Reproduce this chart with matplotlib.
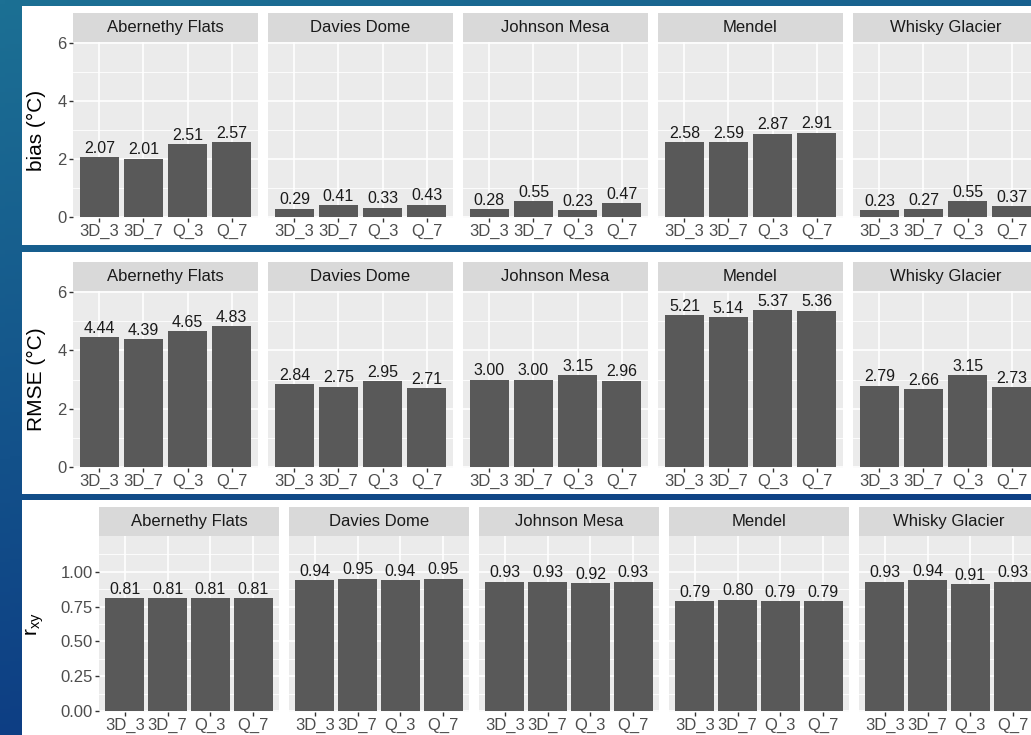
import numpy as np
import matplotlib
matplotlib.use("Agg")
import matplotlib.pyplot as plt
from matplotlib.patches import Rectangle

plt.rcParams['font.family'] = ['Liberation Sans', 'DejaVu Sans']

# data
sites = ["Abernethy Flats", "Davies Dome", "Johnson Mesa", "Mendel", "Whisky Glacier"]
methods = ["3D_3", "3D_7", "Q_3", "Q_7"]

bias = [
    [2.07, 2.01, 2.51, 2.57],
    [0.29, 0.41, 0.33, 0.43],
    [0.28, 0.55, 0.23, 0.47],
    [2.58, 2.59, 2.87, 2.91],
    [0.23, 0.27, 0.55, 0.37],
]
rmse = [
    [4.44, 4.39, 4.65, 4.83],
    [2.84, 2.75, 2.95, 2.71],
    [3.00, 3.00, 3.15, 2.96],
    [5.21, 5.14, 5.37, 5.36],
    [2.79, 2.66, 3.15, 2.73],
]
rxy = [
    [0.81, 0.81, 0.81, 0.81],
    [0.94, 0.95, 0.94, 0.95],
    [0.93, 0.93, 0.92, 0.93],
    [0.79, 0.80, 0.79, 0.79],
    [0.93, 0.94, 0.91, 0.93],
]

W, H = 1031, 735
fig = plt.figure(figsize=(W / 100, H / 100), dpi=100)


def box(x0, y0, x1, y1):
    return [x0 / W, 1 - y1 / H, (x1 - x0) / W, (y1 - y0) / H]


# slide background gradient
bg = fig.add_axes([0, 0, 1, 1])
yy, xx = np.mgrid[0:1:200j, 0:1:200j]
top = np.array([28, 112, 148]) / 255
bot = np.array([10, 50, 128]) / 255
t = np.clip(0.8 * yy + 0.25 * xx, 0, 1)[..., None]
img = top * (1 - t) + bot * t
bg.imshow(img, extent=[0, 1, 0, 1], aspect='auto', origin='upper')
bg.set_xlim(0, 1)
bg.set_ylim(0, 1)
bg.axis('off')

# white panels (x0, y0, x1, y1 in px)
for (x0, y0, x1, y1) in [(22, 6, 1031, 245), (22, 252, 1031, 494), (22, 500, 1031, 735)]:
    bg.add_patch(Rectangle((x0 / W, 1 - y1 / H), (x1 - x0) / W, (y1 - y0) / H,
                           facecolor='white', edgecolor='none'))

rows = [
    dict(data=bias, ylab="bias (°C)", strip=(13, 42), plot=(42, 218), ylim=(-0.03, 6.03),
         major=[0, 2, 4, 6], minor=[1, 3, 5], fmt="{:g}", facets_x=73, fw=185, gap=10, labx=36),
    dict(data=rmse, ylab="RMSE (°C)", strip=(262, 291), plot=(291, 468), ylim=(-0.03, 6.03),
         major=[0, 2, 4, 6], minor=[1, 3, 5], fmt="{:g}", facets_x=73, fw=185, gap=10, labx=36),
    dict(data=rxy, ylab=r"$\mathregular{r_{xy}}$", strip=(507, 536), plot=(536, 712), ylim=(-0.007, 1.257),
         major=[0, 0.25, 0.5, 0.75, 1.0], minor=[0.125, 0.375, 0.625, 0.875, 1.125], fmt="{:.2f}",
         facets_x=99, fw=180, gap=10, labx=35),
]

for r in rows:
    for k, site in enumerate(sites):
        fx0 = r['facets_x'] + k * (r['fw'] + r['gap'])
        fx1 = fx0 + r['fw']
        # strip
        sax = fig.add_axes(box(fx0, r['strip'][0], fx1, r['strip'][1]))
        sax.set_facecolor('#D9D9D9')
        sax.set_xticks([])
        sax.set_yticks([])
        for sp in sax.spines.values():
            sp.set_visible(False)
        sax.text(0.5, 0.5, site, ha='center', va='center', fontsize=12, color='#1A1A1A',
                 transform=sax.transAxes)
        # panel
        ax = fig.add_axes(box(fx0, r['plot'][0], fx1, r['plot'][1]))
        ax.set_facecolor('#EBEBEB')
        for sp in ax.spines.values():
            sp.set_visible(False)
        for m in r['minor']:
            ax.axhline(m, color='white', lw=0.6, zorder=0.5)
        for m in r['major']:
            ax.axhline(m, color='white', lw=1.2, zorder=0.6)
        x = np.arange(1, 5)
        for xi in x:
            ax.axvline(xi, color='white', lw=1.2, zorder=0.6)
        vals = r['data'][k]
        ax.bar(x, vals, width=0.9, color='#595959', zorder=2)
        for xi, v in zip(x, vals):
            ax.annotate(f"{v:.2f}", (xi, v), xytext=(0, 1.0), textcoords='offset points',
                        ha='center', va='bottom', fontsize=11.5, color='#1A1A1A', zorder=3)
        ax.set_xlim(0.4, 4.6)
        ax.set_ylim(*r['ylim'])
        ax.set_xticks(x)
        ax.set_xticklabels(methods, fontsize=12, color='#4D4D4D')
        ax.tick_params(axis='x', length=3, width=1, color='#333333', pad=1.2)
        if k == 0:
            ax.set_yticks(r['major'])
            ax.set_yticklabels([r['fmt'].format(m) for m in r['major']], fontsize=12, color='#4D4D4D')
            ax.tick_params(axis='y', length=3, width=1, color='#333333', pad=1.5)
        else:
            ax.set_yticks([])
    yc = (r['plot'][0] + r['plot'][1]) / 2
    fig.text(r['labx'] / W, 1 - yc / H, r['ylab'], rotation=90, ha='center', va='center',
             fontsize=15, color='black')

fig.savefig("out.png", dpi=100)
